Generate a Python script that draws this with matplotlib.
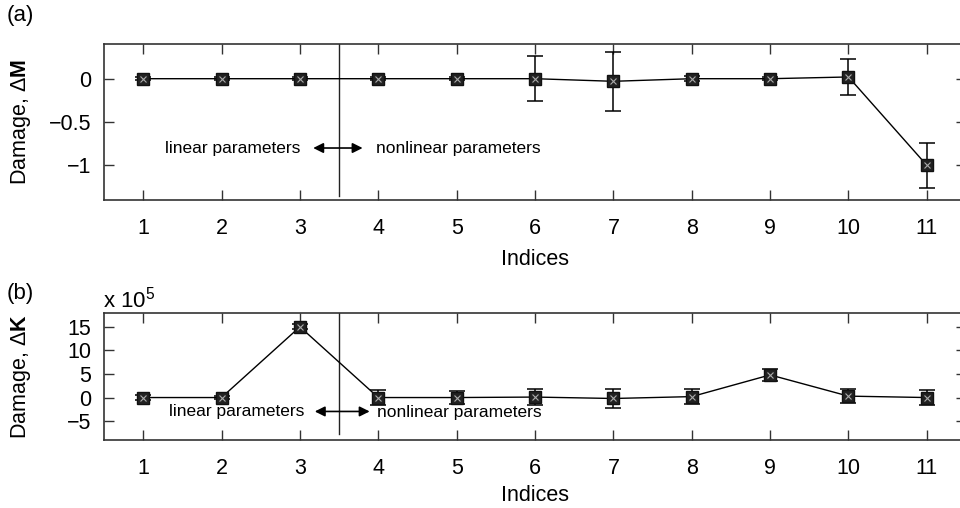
import matplotlib
matplotlib.use("Agg")
import matplotlib.pyplot as plt
import numpy as np

plt.rcParams['font.family'] = ['Liberation Sans', 'DejaVu Sans']
plt.rcParams['mathtext.fontset'] = 'custom'
plt.rcParams['mathtext.rm'] = 'Liberation Sans'
plt.rcParams['mathtext.bf'] = 'Liberation Sans:bold'
plt.rcParams['mathtext.it'] = 'Liberation Sans:italic'

indices = [1, 2, 3, 4, 5, 6, 7, 8, 9, 10, 11]
dM = [0.0, 0.0, 0.0, 0.0, 0.0, 0.0, -0.03, 0.0, 0.0, 0.02, -1.0]
dM_err = [0.02, 0.02, 0.02, 0.02, 0.02, 0.26, 0.34, 0.03, 0.02, 0.21, 0.26]
dK = [0.0, 0.0, 15.0, 0.0, 0.0, 0.1, -0.2, 0.2, 4.8, 0.3, 0.0]
dK_err = [0.5, 0.3, 0.5, 1.5, 1.3, 1.7, 2.1, 1.55, 1.2, 1.5, 1.6]
m_yticks = [0, -0.5, -1]
m_yticklabels = ['0', '\u22120.5', '\u22121']
k_yticks = [15, 10, 5, 0, -5]
k_yticklabels = ['15', '10', '5', '0', '\u22125']

fig = plt.figure(figsize=(9.6, 5.08), dpi=100)
ax1 = fig.add_axes([0.1083, 0.6063, 0.898, 0.307])
ax2 = fig.add_axes([0.1083, 0.1339, 0.898, 0.2506])

spine_c = '#333333'
FS = 15.5

def style(ax, lp):
    ax.set_xlim(0.5, 11.5)
    ax.set_xticks(indices)
    ax.tick_params(direction='in', length=7, width=1, top=True, right=True,
                   labelsize=FS, color=spine_c)
    ax.tick_params(axis='x', pad=13)
    ax.tick_params(axis='y', pad=9)
    for s in ax.spines.values():
        s.set_color(spine_c)
        s.set_linewidth(1.2)
    ax.set_xlabel('Indices', fontsize=FS, labelpad=lp)

def draw(ax, y, e):
    ax.errorbar(indices, y, yerr=e, color='black', lw=1, elinewidth=1.1,
                capsize=6, capthick=1.1, marker='s', markersize=9,
                markerfacecolor='#222222', markeredgecolor='#111111', zorder=3)
    ax.plot(indices, y, linestyle='none', marker='x', markersize=5,
            markeredgecolor='#aaaaaa', markeredgewidth=0.8, zorder=4)

# Panel (a)
style(ax1, 7)
ax1.set_ylim(-1.4, 0.4)
ax1.set_yticks(m_yticks)
ax1.set_yticklabels(m_yticklabels)
draw(ax1, dM, dM_err)
ax1.plot([3.5, 3.5], [-1.35, 0.4], color='#222222', lw=1)
ax1.text(3.0, -0.8, 'linear parameters', ha='right', va='center', fontsize=12.5)
ax1.text(3.97, -0.8, 'nonlinear parameters', ha='left', va='center', fontsize=12.5)
ax1.annotate('', xy=(3.17, -0.8), xytext=(3.8, -0.8),
             arrowprops=dict(arrowstyle='<|-|>', color='black', lw=1.2,
                             mutation_scale=15, shrinkA=0, shrinkB=0))
ax1.set_ylabel('Damage, \u0394' + r'$\mathbf{M}$', fontsize=FS)
ax1.yaxis.set_label_coords(-0.082, 0.5)

# Panel (b)
style(ax2, 4)
ax2.set_ylim(-9, 18)
ax2.set_yticks(k_yticks)
ax2.set_yticklabels(k_yticklabels)
draw(ax2, dK, dK_err)
ax2.plot([3.5, 3.5], [-7.65, 18], color='#222222', lw=1)
ax2.text(3.06, -2.9, 'linear parameters', ha='right', va='center', fontsize=12.5)
ax2.text(3.98, -3.1, 'nonlinear parameters', ha='left', va='center', fontsize=12.5)
ax2.annotate('', xy=(3.19, -2.95), xytext=(3.89, -2.95),
             arrowprops=dict(arrowstyle='<|-|>', color='black', lw=1.2,
                             mutation_scale=15, shrinkA=0, shrinkB=0))
ax2.set_ylabel('Damage, \u0394' + r'$\mathbf{K}$', fontsize=FS)
ax2.yaxis.set_label_coords(-0.082, 0.5)

fig.text(0.007, 0.970, '(a)', fontsize=16, ha='left', va='center')
fig.text(0.007, 0.423, '(b)', fontsize=16, ha='left', va='center')
fig.text(0.107, 0.410, r'x 10$^{5}$', fontsize=16, ha='left', va='center')

fig.savefig('out.png', dpi=100)
